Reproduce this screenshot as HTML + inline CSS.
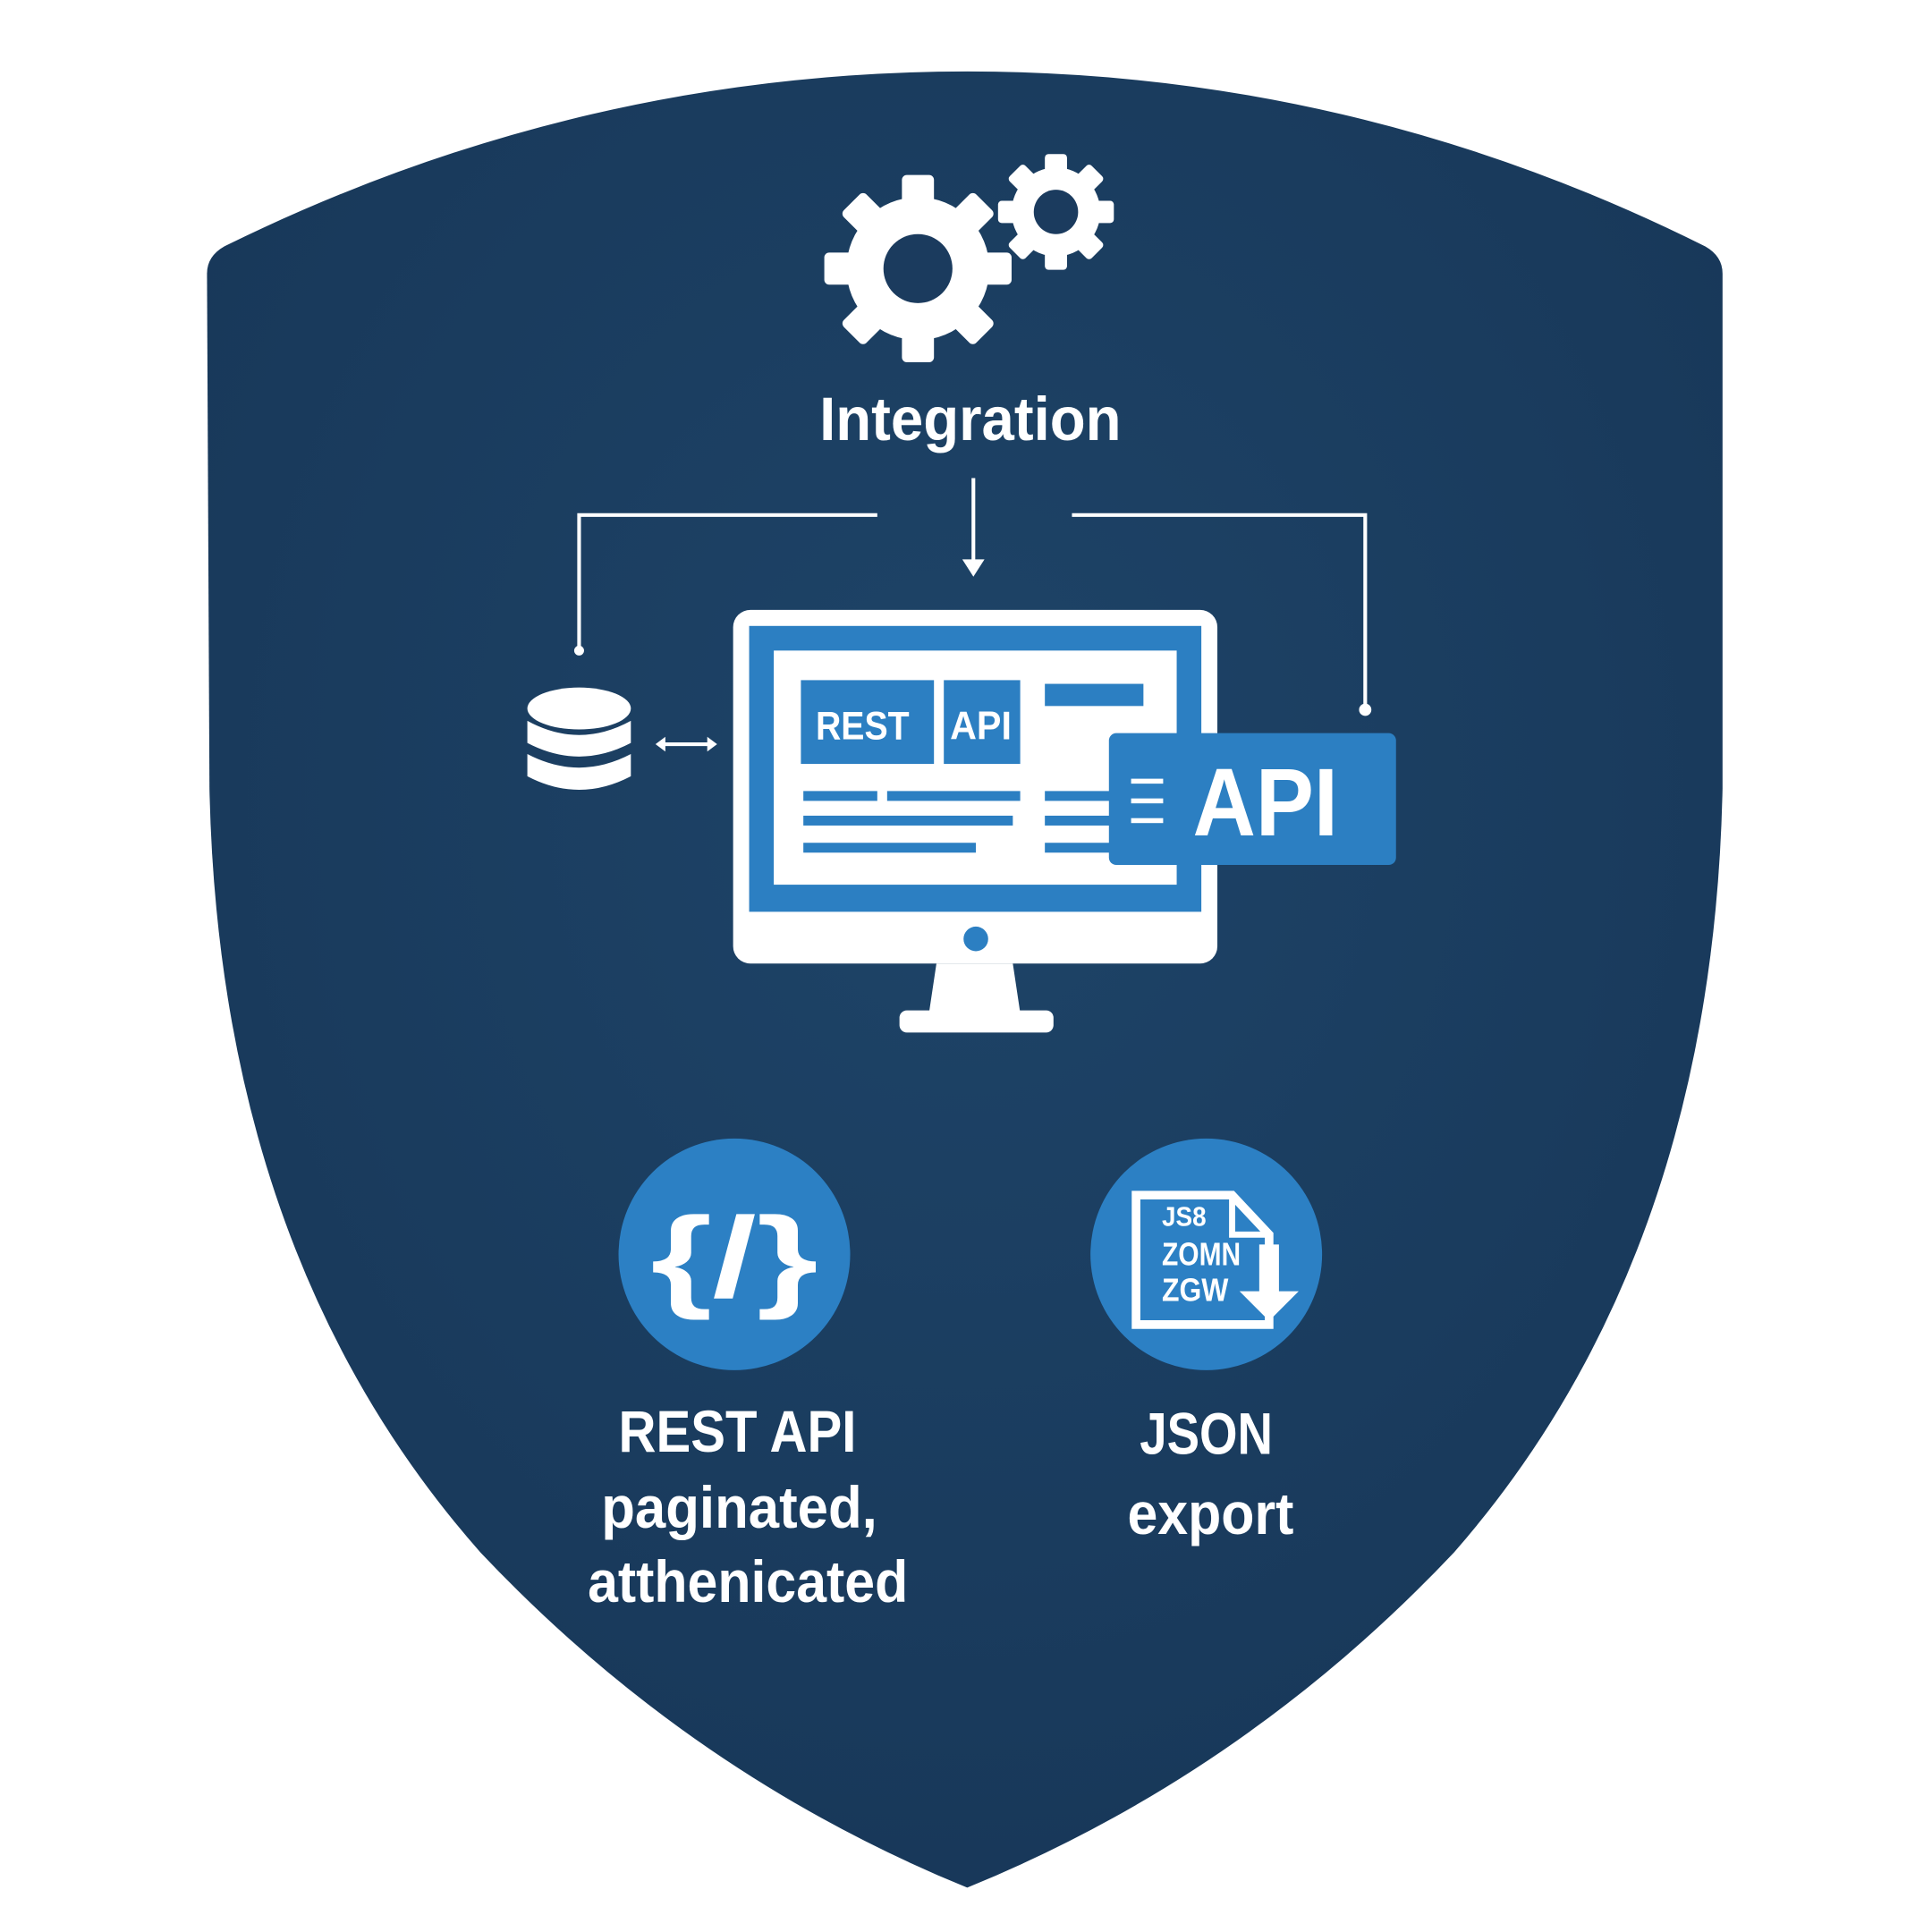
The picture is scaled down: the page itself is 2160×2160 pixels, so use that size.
<!DOCTYPE html>
<html><head><meta charset="utf-8"><style>
html,body{margin:0;padding:0;background:#fff;}
svg{display:block;}
text{font-family:"Liberation Sans",sans-serif;font-weight:bold;fill:#fff;}
</style></head><body>
<svg width="2160" height="2160" viewBox="0 0 1568 1568" xmlns="http://www.w3.org/2000/svg">
<defs>
<radialGradient id="bg" cx="0.5" cy="0.4" r="0.7">
<stop offset="0" stop-color="#1e4468"/><stop offset="1" stop-color="#173657"/>
</radialGradient>
</defs>
<path d="M168,222 Q168,208 182,200 Q470,58 785,58 Q1100,58 1384,200 Q1398,208 1398,222 L1398,640 Q1390,1020 1180,1260 Q1010,1440 785,1532 Q560,1440 390,1260 Q178,1020 170,640 Z" fill="url(#bg)"/>
<!-- gears -->
<g fill="#fff">
<g transform="translate(745,218)">
<circle r="58"/>
<g id="t"><rect x="-13" y="-76" width="26" height="26" rx="4"/></g>
<use href="#t" transform="rotate(45)"/><use href="#t" transform="rotate(90)"/><use href="#t" transform="rotate(135)"/>
<use href="#t" transform="rotate(180)"/><use href="#t" transform="rotate(225)"/><use href="#t" transform="rotate(270)"/><use href="#t" transform="rotate(315)"/>
<circle r="28" fill="#1b3b5e"/>
</g>
<g transform="translate(857,172)">
<circle r="36"/>
<g id="t2"><rect x="-9" y="-47" width="18" height="18" rx="3"/></g>
<use href="#t2" transform="rotate(45)"/><use href="#t2" transform="rotate(90)"/><use href="#t2" transform="rotate(135)"/>
<use href="#t2" transform="rotate(180)"/><use href="#t2" transform="rotate(225)"/><use href="#t2" transform="rotate(270)"/><use href="#t2" transform="rotate(315)"/>
<circle r="18" fill="#1b3b5e"/>
</g>
</g>
<text x="665" y="357" font-size="50" textLength="245" lengthAdjust="spacingAndGlyphs">Integration</text>
<!-- connectors -->
<g stroke="#fff" stroke-width="3" fill="none">
<path d="M470,528 L470,418 L712,418"/>
<path d="M790,388 L790,460"/>
<path d="M870,418 L1108,418 L1108,576"/>
<path d="M536,604 L578,604"/>
</g>
<path d="M781,454 L790,468 L799,454 Z" fill="#fff"/>
<circle cx="470" cy="528" r="4" fill="#fff"/><circle cx="1108" cy="576" r="5" fill="#fff"/>
<path d="M540,598 L532,604 L540,610Z M574,598 L582,604 L574,610Z" fill="#fff"/>
<!-- database -->
<g fill="#fff">
<ellipse cx="470" cy="575" rx="42" ry="17"/>
<path d="M428,585 Q470,608 512,585 L512,603 Q470,625 428,603 Z"/>
<path d="M428,612 Q470,634 512,612 L512,630 Q470,652 428,630 Z"/>
</g>
<!-- monitor -->
<rect x="595" y="495" width="393" height="287" rx="14" fill="#fff"/>
<rect x="608" y="508" width="367" height="232" fill="#2c7fc2"/>
<rect x="628" y="528" width="327" height="190" fill="#fff"/>
<circle cx="792" cy="762" r="10" fill="#2c7fc2"/>
<path d="M760,782 L822,782 L828,822 L754,822 Z" fill="#fff"/>
<rect x="730" y="820" width="125" height="18" rx="6" fill="#fff"/>
<rect x="650" y="552" width="108" height="68" fill="#2c7fc2"/>
<rect x="766" y="552" width="62" height="68" fill="#2c7fc2"/>
<text x="662" y="600" font-size="32" textLength="76" lengthAdjust="spacingAndGlyphs">REST</text>
<text x="771" y="600" font-size="32" textLength="50" lengthAdjust="spacingAndGlyphs">API</text>
<rect x="848" y="555" width="80" height="18" fill="#2c7fc2"/>
<g fill="#2c7fc2">
<rect x="652" y="642" width="60" height="8"/><rect x="720" y="642" width="108" height="8"/><rect x="848" y="642" width="55" height="8"/>
<rect x="652" y="662" width="170" height="8"/><rect x="848" y="662" width="55" height="8"/>
<rect x="652" y="684" width="140" height="8"/><rect x="848" y="684" width="55" height="8"/>
</g>
<rect x="900" y="595" width="233" height="107" rx="6" fill="#2c7fc2"/>
<g fill="#fff"><rect x="918" y="632" width="26" height="4"/><rect x="918" y="648" width="26" height="4"/><rect x="918" y="664" width="26" height="4"/></g>
<text x="968" y="678" font-size="78" textLength="118" lengthAdjust="spacingAndGlyphs">API</text>
<!-- circles -->
<circle cx="596" cy="1018" r="94" fill="#2c80c4"/>
<text x="528" y="1052" font-size="92" textLength="136" lengthAdjust="spacingAndGlyphs">{/}</text>
<circle cx="979" cy="1018" r="94" fill="#2c80c4"/>
<path d="M922,970 L1000,970 L1030,1002 L1030,1075 L922,1075 Z" fill="none" stroke="#fff" stroke-width="7"/>
<path d="M1000,970 L1000,1002 L1030,1002" fill="none" stroke="#fff" stroke-width="5"/>
<text x="943" y="995" font-size="22" textLength="36" lengthAdjust="spacingAndGlyphs">JS8</text>
<text x="943" y="1027" font-size="26" textLength="64" lengthAdjust="spacingAndGlyphs">ZOMN</text>
<text x="943" y="1056" font-size="26" textLength="54" lengthAdjust="spacingAndGlyphs">ZGW</text>
<path d="M1022,1010 L1022,1048 L1006,1048 L1030,1072 L1054,1048 L1038,1048 L1038,1010 Z" fill="#fff"/>
<text x="502" y="1178" font-size="48" textLength="193" lengthAdjust="spacingAndGlyphs">REST API</text>
<text x="488" y="1240" font-size="48" textLength="224" lengthAdjust="spacingAndGlyphs">paginated,</text>
<text x="477" y="1300" font-size="48" textLength="260" lengthAdjust="spacingAndGlyphs">atthenicated</text>
<text x="925" y="1180" font-size="48" textLength="108" lengthAdjust="spacingAndGlyphs">JSON</text>
<text x="915" y="1245" font-size="48" textLength="135" lengthAdjust="spacingAndGlyphs">export</text>
</svg>
</body></html>
